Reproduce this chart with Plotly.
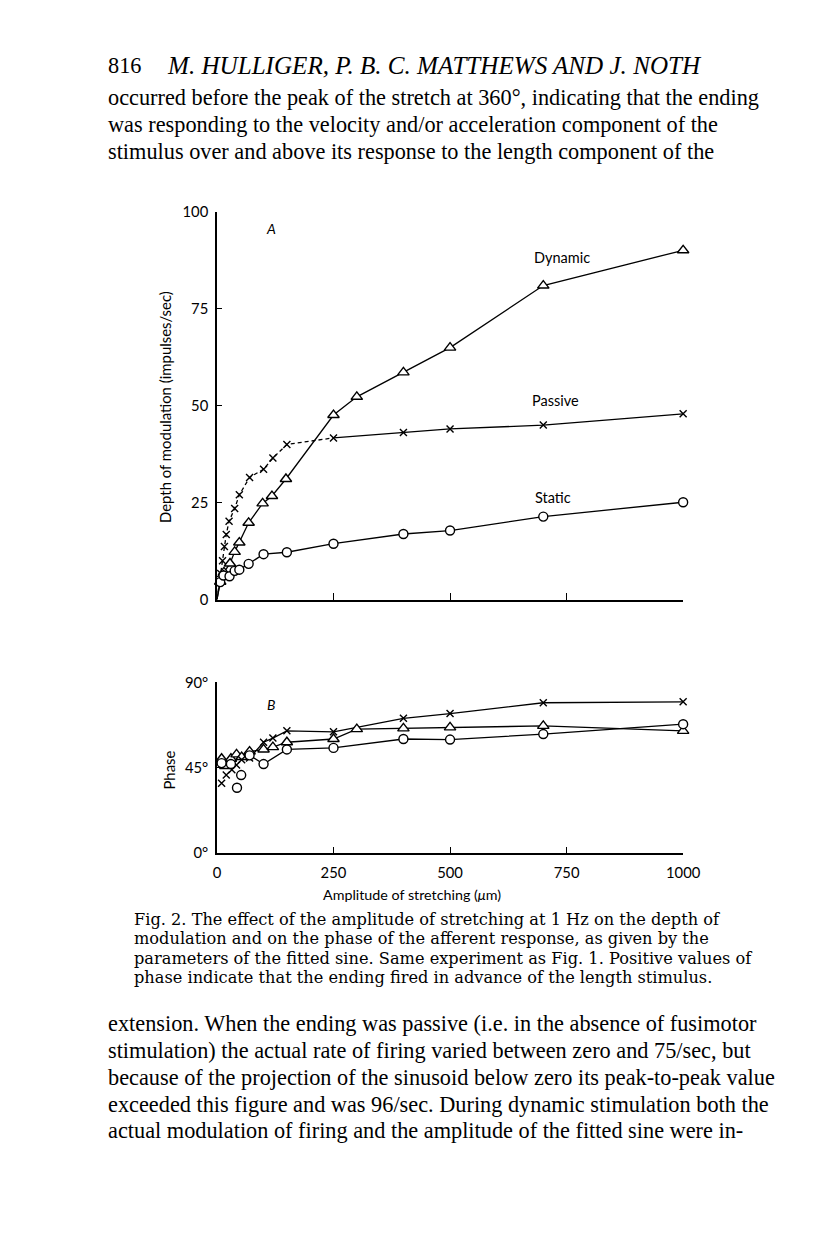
import plotly.graph_objects as go

# positions below are taken from the 816x1234 reference page; the figure sits inside
# the browser's 8px body margin, and a small measured correction keeps the rendered
# page lined up with the reference
M = 8
W, H = 790, 1200
AX, BX = 2.0, 0.978
AY, BY = 8.0, 0.986

# ---- panel A: depth of modulation (impulses/sec) vs amplitude (um)
dyn_x = [7, 15, 28, 38, 48, 68, 98, 118, 148, 250, 300, 400, 500, 700, 1000]
dyn_y = [4.6, 7.0, 9.3, 12.3, 14.7, 19.8, 24.8, 26.7, 31.1, 47.6, 52.3, 58.6, 65.0, 81.0, 90.1]
pas_x = [8, 12, 16, 20, 26, 38, 48, 70, 100, 120, 150, 250, 400, 500, 700, 1000]
pas_y = [6.7, 10.0, 13.7, 16.8, 20.2, 23.5, 27.0, 31.5, 33.6, 36.5, 40.0, 41.7, 43.1, 44.0, 45.0, 47.9]
sta_x = [7, 14, 27, 38, 48, 68, 100, 150, 250, 400, 500, 700, 1000]
sta_y = [4.5, 6.2, 6.0, 7.4, 7.7, 9.2, 11.7, 12.2, 14.4, 16.9, 17.8, 21.4, 25.1]

# ---- panel B: phase (deg) vs amplitude (um)
dyn_px = [10, 18, 30, 42, 53, 70, 100, 120, 150, 250, 300, 400, 500, 700, 1000]
dyn_py = [49.8, 46.0, 49.8, 52.1, 50.7, 53.6, 54.7, 55.9, 58.5, 60.2, 65.4, 65.8, 66.3, 67.1, 64.5]
pas_px = [10, 20, 32, 42, 53, 70, 100, 120, 150, 250, 400, 500, 700, 1000]
pas_py = [36.9, 41.2, 44.0, 46.5, 49.3, 50.2, 58.5, 60.7, 64.5, 64.0, 71.1, 73.6, 79.3, 79.8]
sta_px = [10, 30, 43, 52, 70, 100, 150, 250, 400, 500, 700, 1000]
sta_py = [47.5, 47.0, 34.5, 41.2, 51.6, 47.0, 54.7, 55.5, 60.2, 59.9, 62.8, 68.0]

ticks_a = [0, 25, 50, 75, 100]
ticks_b = [0, 45, 90]
ticks_x = [0, 250, 500, 750, 1000]


# reference page pixel -> paper fraction
def fx(x):
    return ((x - AX) / BX - M) / W


def fy(y):
    return 1 - ((y - AY) / BY - M) / H


def series(x, y, sym, size, xa, ya, dash="solid", mode="lines+markers"):
    return go.Scatter(x=x, y=y, mode=mode, xaxis=xa, yaxis=ya, cliponaxis=False,
                      line=dict(color="black", width=1.3, dash=dash),
                      marker=dict(symbol=sym, size=size,
                                  color="black" if sym == "x-thin" else "white",
                                  line=dict(color="black", width=1.4)),
                      showlegend=False, hoverinfo="x+y")


TRI, XX, CIR = "triangle-up", "x-thin", "circle"

fig = go.Figure()

# panel A (lines start at the origin)
fig.add_trace(series([0] + dyn_x, [0] + dyn_y, TRI, 10, "x", "y", mode="lines"))
fig.add_trace(series([0] + pas_x[:12], [0] + pas_y[:12], XX, 7, "x", "y", dash="4px,3px", mode="lines"))
fig.add_trace(series(pas_x[11:], pas_y[11:], XX, 7, "x", "y", mode="lines"))
fig.add_trace(series([0] + sta_x, [0] + sta_y, CIR, 9, "x", "y", mode="lines"))
fig.add_trace(series(dyn_x, dyn_y, TRI, 10, "x", "y", mode="markers"))
fig.add_trace(series(pas_x, pas_y, XX, 7, "x", "y", mode="markers"))
fig.add_trace(series(sta_x, sta_y, CIR, 9, "x", "y", mode="markers"))

# panel B
fig.add_trace(series(dyn_px[4:], dyn_py[4:], TRI, 10, "x2", "y2", mode="lines"))
fig.add_trace(series(pas_px[5:], pas_py[5:], XX, 7, "x2", "y2", mode="lines"))
fig.add_trace(series(sta_px[4:], sta_py[4:], CIR, 9, "x2", "y2", mode="lines"))
fig.add_trace(series(dyn_px, dyn_py, TRI, 10, "x2", "y2", mode="markers"))
fig.add_trace(series(pas_px, pas_py, XX, 7, "x2", "y2", mode="markers"))
fig.add_trace(series(sta_px, sta_py, CIR, 9, "x2", "y2", mode="markers"))

tick_font = dict(family="Lato", size=14.8, color="black")
axis_common = dict(showgrid=False, zeroline=False, showline=True, linecolor="black",
                   linewidth=1.5, ticks="inside", tickcolor="black", tickwidth=1.3,
                   tickfont=tick_font, fixedrange=True)

xdom = [fx(216), fx(685)]
fig.update_layout(
    width=W, height=H, margin=dict(l=0, r=0, t=0, b=0),
    paper_bgcolor="white", plot_bgcolor="white",
    xaxis=dict(axis_common, domain=xdom, range=[0, 1000], anchor="y",
               tickvals=ticks_x, ticklen=7, showticklabels=False),
    yaxis=dict(axis_common, domain=[fy(598), fy(210)], range=[0, 100], anchor="x",
               tickvals=ticks_a, ticklen=5, ticklabelstandoff=4),
    xaxis2=dict(axis_common, domain=xdom, range=[0, 1000], anchor="y2",
                tickvals=ticks_x, ticklen=7, ticklabelstandoff=5),
    yaxis2=dict(axis_common, domain=[fy(852), fy(681)], range=[0, 90], anchor="x2",
                tickvals=ticks_b, ticktext=[f"{v}°" for v in ticks_b], ticklen=5,
                ticklabelstandoff=4),
)

body_font = "Liberation Serif"
cap_font = "DejaVu Serif"
sans = "Lato"
ann = []


def text(s, x, y, size, family=body_font, anchor="left", italic=False, angle=0):
    ann.append(dict(text=s, x=fx(x), y=fy(y), xref="paper", yref="paper", showarrow=False,
                    xanchor=anchor, yanchor="middle", textangle=angle,
                    font=dict(family=family, size=size, color="black",
                              style="italic" if italic else "normal")))


# running head and body text
text("816", 104, 63, 22.3)
text("M. HULLIGER, P. B. C. MATTHEWS AND J. NOTH", 164, 63, 25.1, italic=True)
body_top = [
    "occurred before the peak of the stretch at 360°, indicating that the ending",
    "was responding to the velocity and/or acceleration component of the",
    "stimulus over and above its response to the length component of the",
]
for i, s in enumerate(body_top):
    text(s, 104, 95 + i * 27.5, 22.3)

# panel labels and axis titles
text("A", 270, 227, 14, family=sans, anchor="center", italic=True)
text("B", 270, 703, 14, family=sans, anchor="center", italic=True)
text("Dynamic", 563, 256, 14.5, family=sans, anchor="center")
text("Passive", 557, 399, 14.5, family=sans, anchor="center")
text("Static", 554, 496, 14.5, family=sans, anchor="center")
text("Depth of modulation (impulses/sec)", 163, 405, 14.9, family=sans, anchor="center", angle=-90)
text("Phase", 168, 769, 14.9, family=sans, anchor="center", angle=-90)
text("Amplitude of stretching (<i>μ</i>m)", 412, 893, 14.3, family=sans, anchor="center")

caption = [
    "Fig. 2. The effect of the amplitude of stretching at 1 Hz on the depth of",
    "modulation and on the phase of the afferent response, as given by the",
    "parameters of the fitted sine. Same experiment as Fig. 1. Positive values of",
    "phase indicate that the ending fired in advance of the length stimulus.",
]
for i, s in enumerate(caption):
    text(s, 131, 918 + i * 19.5, 16.2, family=cap_font)

body_bottom = [
    "extension. When the ending was passive (i.e. in the absence of fusimotor",
    "stimulation) the actual rate of firing varied between zero and 75/sec, but",
    "because of the projection of the sinusoid below zero its peak-to-peak value",
    "exceeded this figure and was 96/sec. During dynamic stimulation both the",
    "actual modulation of firing and the amplitude of the fitted sine were in-",
]
for i, s in enumerate(body_bottom):
    text(s, 104, 1022 + i * 27, 22.3)

fig.update_layout(annotations=ann)

fig.write_html("out.html", config={"displayModeBar": False})
